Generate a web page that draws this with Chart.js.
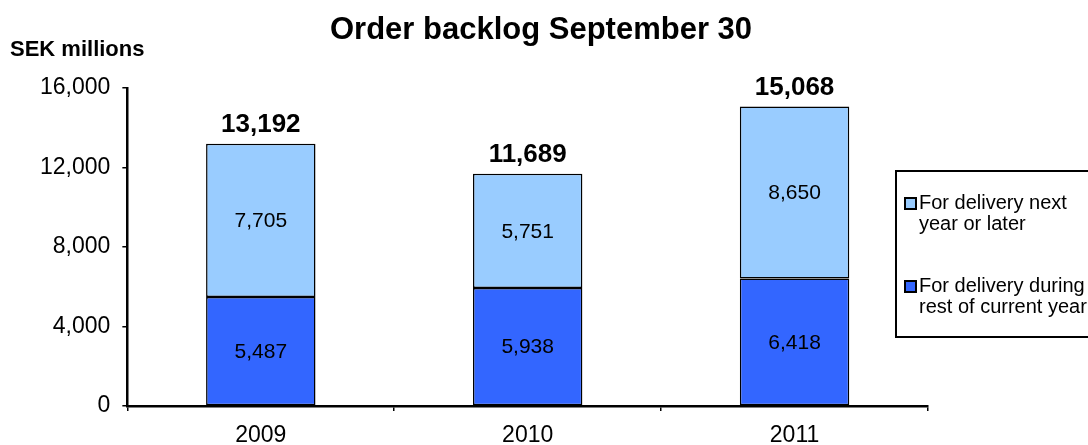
<!DOCTYPE html>
<html>
<head>
<meta charset="utf-8">
<script src="https://cdn.jsdelivr.net/npm/chart.js@4"></script>
<style>
    html, body { margin: 0; padding: 0; background: #fff; }
    #wrap { width: 1088px; height: 445px; }
</style>
</head>
<body>
<div id="wrap"><canvas id="backlogChart"></canvas></div>
<script>
// Chart data
const years = ['2009', '2010', '2011'];
const currentYear = [5487, 5938, 6418];
const nextYear = [7705, 5751, 8650];
const totals = [13192, 11689, 15068];
const yTicks = [0, 4000, 8000, 12000, 16000];

const FONT = '"Liberation Sans", Arial, sans-serif';

function fmt(v) {
    return v.toLocaleString('en-US');
}

// Title, unit label, value labels and legend box
const extras = {
    id: 'extras',
    afterDatasetsDraw(chart) {
        const ctx = chart.ctx;
        ctx.save();
        ctx.fillStyle = '#000';
        ctx.textAlign = 'center';
        ctx.textBaseline = 'middle';

        // segment labels
        ctx.font = '21px ' + FONT;
        chart.data.datasets.forEach((ds, i) => {
            chart.getDatasetMeta(i).data.forEach((bar, j) => {
                const mid = (bar.y + bar.base) / 2;
                ctx.fillText(fmt(ds.data[j]), bar.x, mid + 1);
            });
        });

        // totals
        ctx.font = 'bold 26px ' + FONT;
        const top = chart.getDatasetMeta(1).data;
        top.forEach((bar, j) => {
            ctx.fillText(fmt(totals[j]), bar.x, bar.y - 19);
        });

        // title
        ctx.font = 'bold 31px ' + FONT;
        ctx.fillText('Order backlog September 30', 541, 30);

        // unit
        ctx.textAlign = 'left';
        ctx.font = 'bold 22px ' + FONT;
        ctx.fillText('SEK millions', 10, 50);

        // legend
        ctx.strokeStyle = '#000';
        ctx.lineWidth = 2;
        ctx.strokeRect(896, 171, 210, 166);
        const entries = [
            { ds: chart.data.datasets[1], lines: ['For delivery next', 'year or later'], y: 203 },
            { ds: chart.data.datasets[0], lines: ['For delivery during', 'rest of current year'], y: 286 }
        ];
        ctx.font = '20px ' + FONT;
        entries.forEach(e => {
            ctx.fillStyle = e.ds.backgroundColor;
            ctx.fillRect(905, e.y - 5, 11, 11);
            ctx.lineWidth = 2;
            ctx.strokeRect(905, e.y - 5, 11, 11);
            ctx.fillStyle = '#000';
            ctx.fillText(e.lines[0], 919, e.y);
            ctx.fillText(e.lines[1], 919, e.y + 21);
        });
        ctx.restore();
    }
};

document.addEventListener('DOMContentLoaded', function () {
    const ctx = document.getElementById('backlogChart').getContext('2d');
    new Chart(ctx, {
        type: 'bar',
        data: {
            labels: years,
            datasets: [{
                label: 'For delivery during rest of current year',
                data: currentYear,
                backgroundColor: '#3366FF',
                borderColor: '#000',
                borderWidth: 1.5,
                borderSkipped: false,
                categoryPercentage: 1,
                barPercentage: 0.41
            }, {
                label: 'For delivery next year or later',
                data: nextYear,
                backgroundColor: '#99CCFF',
                borderColor: '#000',
                borderWidth: 1.5,
                borderSkipped: false,
                categoryPercentage: 1,
                barPercentage: 0.41
            }]
        },
        options: {
            responsive: true,
            maintainAspectRatio: false,
            animation: false,
            layout: {
                padding: { top: 88, right: 160, left: 28, bottom: 0 }
            },
            plugins: {
                legend: { display: false },
                title: { display: false },
                tooltip: { enabled: false }
            },
            scales: {
                x: {
                    stacked: true,
                    // labels sit a little lower than the axis box allows
                    afterFit(axis) {
                        axis.height = 39;
                    },
                    grid: {
                        offset: true,
                        drawOnChartArea: false,
                        color: '#000',
                        tickLength: 5,
                        lineWidth: 1.5
                    },
                    border: { color: '#000', width: 2.5 },
                    ticks: {
                        color: '#000',
                        font: { family: FONT, size: 23 },
                        padding: 11
                    }
                },
                y: {
                    stacked: true,
                    min: 0,
                    max: 16000,
                    afterBuildTicks(axis) {
                        axis.ticks = yTicks.map(v => ({ value: v }));
                    },
                    grid: {
                        drawOnChartArea: false,
                        color: '#000',
                        tickLength: 5,
                        lineWidth: 1.5
                    },
                    border: { color: '#000', width: 2.5 },
                    ticks: {
                        color: '#000',
                        font: { family: FONT, size: 23 },
                        padding: 12,
                        callback: v => fmt(v)
                    }
                }
            }
        },
        plugins: [extras]
    });
});
</script>
</body>
</html>
